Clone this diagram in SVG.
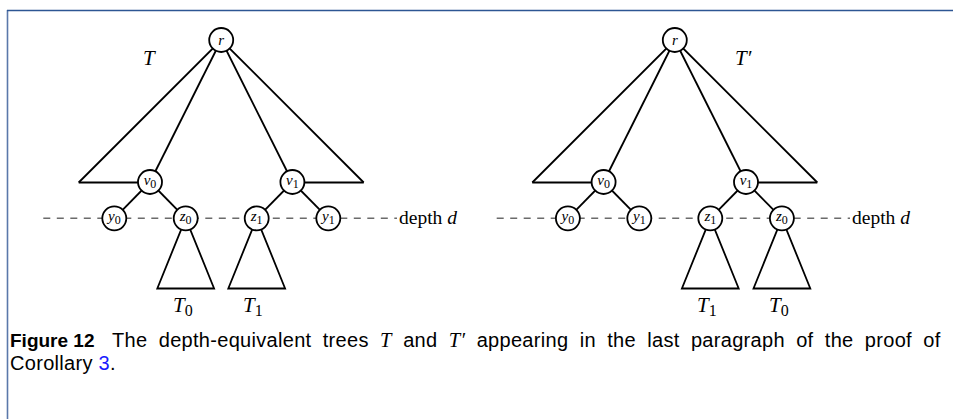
<svg xmlns="http://www.w3.org/2000/svg" width="953" height="419" viewBox="0 0 953 419">
<style>
.e{stroke:#000;stroke-width:1.8;fill:none;stroke-linejoin:miter}
.d{stroke:#6b6b6b;stroke-width:1.5;stroke-dasharray:7 6.5;fill:none}
.n{fill:#fff;stroke:#000;stroke-width:1.8}
.l{font-family:"Liberation Serif",serif;font-style:italic;font-size:15px;text-anchor:middle}
.s{font-style:normal;font-size:12px}
.m{font-family:"Liberation Serif",serif;font-style:italic;font-size:21px}
.ms{font-style:normal;font-size:16px}
.dl{font-family:"Liberation Serif",serif;font-size:19.5px}
.cap{font-family:"Liberation Sans",sans-serif;font-size:20px;letter-spacing:0.3px}
.ci{font-family:"Liberation Serif",serif;font-style:italic;font-size:20.5px}
</style>
<rect width="953" height="419" fill="#fff"/>
<g id="frame">
<line x1="7.5" y1="10" x2="7.5" y2="419" stroke="#5a78aa" stroke-width="1.6"/>
<line x1="7" y1="10.5" x2="953" y2="10.5" stroke="#2d5693" stroke-width="1.4"/>
</g>
<g id="connectors">
<line class="d" x1="43.3" y1="218.3" x2="397" y2="218.3"/>
<line class="d" x1="496.7" y1="218.3" x2="850" y2="218.3"/>
<path class="e" d="M78.7 182.5 L221.2 40 L363.7 182.5"/>
<line class="e" x1="78.7" y1="182.5" x2="150" y2="182.5"/>
<line class="e" x1="292.4" y1="182.5" x2="363.7" y2="182.5"/>
<line class="e" x1="221.2" y1="40" x2="150" y2="182"/>
<line class="e" x1="221.2" y1="40" x2="292.4" y2="182"/>
<line class="e" x1="150" y1="182" x2="114.3" y2="218.3"/>
<line class="e" x1="150" y1="182" x2="185.7" y2="218.3"/>
<line class="e" x1="292.4" y1="182" x2="256.7" y2="218.3"/>
<line class="e" x1="292.4" y1="182" x2="328.3" y2="218.3"/>
<path class="e" d="M185.7 218.3 L157.3 288.5 L214.1 288.5 Z"/>
<path class="e" d="M256.7 218.3 L228.3 288.5 L285.1 288.5 Z"/>
<path class="e" d="M532.3 182.5 L674.8 40 L817.3 182.5"/>
<line class="e" x1="532.3" y1="182.5" x2="603.6" y2="182.5"/>
<line class="e" x1="746" y1="182.5" x2="817.3" y2="182.5"/>
<line class="e" x1="674.8" y1="40" x2="603.6" y2="182"/>
<line class="e" x1="674.8" y1="40" x2="746" y2="182"/>
<line class="e" x1="603.6" y1="182" x2="567.9" y2="218.3"/>
<line class="e" x1="603.6" y1="182" x2="639.3" y2="218.3"/>
<line class="e" x1="746" y1="182" x2="710.3" y2="218.3"/>
<line class="e" x1="746" y1="182" x2="781.9" y2="218.3"/>
<path class="e" d="M710.3 218.3 L681.9 288.5 L738.7 288.5 Z"/>
<path class="e" d="M781.9 218.3 L753.5 288.5 L810.3 288.5 Z"/>
</g>
<g id="left-tree-labels">
<text class="m" x="143" y="65">T</text>
<text class="m" x="173" y="312">T<tspan class="ms" dy="4">0</tspan></text>
<text class="m" x="243" y="312">T<tspan class="ms" dy="4">1</tspan></text>
<text class="dl" x="399" y="223.5">depth <tspan font-style="italic">d</tspan></text>
</g>
<g id="right-tree-labels">
<text class="m" x="735" y="65">T′</text>
<text class="m" x="697" y="312">T<tspan class="ms" dy="4">1</tspan></text>
<text class="m" x="769" y="312">T<tspan class="ms" dy="4">0</tspan></text>
<text class="dl" x="852" y="223.5">depth <tspan font-style="italic">d</tspan></text>
</g>
<g id="L-r"><circle class="n" cx="221.2" cy="40" r="12"/><text class="l" x="221.2" y="44.5">r</text></g>
<g id="L-v0"><circle class="n" cx="150" cy="182" r="12"/><text class="l" x="150" y="185">v<tspan class="s" dy="3">0</tspan></text></g>
<g id="L-v1"><circle class="n" cx="292.4" cy="182" r="12"/><text class="l" x="292.4" y="185">v<tspan class="s" dy="3">1</tspan></text></g>
<g id="L-y0"><circle class="n" cx="114.3" cy="218.3" r="12"/><text class="l" x="114.3" y="221.3">y<tspan class="s" dy="3">0</tspan></text></g>
<g id="L-z0"><circle class="n" cx="185.7" cy="218.3" r="12"/><text class="l" x="185.7" y="221.3">z<tspan class="s" dy="3">0</tspan></text></g>
<g id="L-z1"><circle class="n" cx="256.7" cy="218.3" r="12"/><text class="l" x="256.7" y="221.3">z<tspan class="s" dy="3">1</tspan></text></g>
<g id="L-y1"><circle class="n" cx="328.3" cy="218.3" r="12"/><text class="l" x="328.3" y="221.3">y<tspan class="s" dy="3">1</tspan></text></g>
<g id="R-r"><circle class="n" cx="674.8" cy="40" r="12"/><text class="l" x="674.8" y="44.5">r</text></g>
<g id="R-v0"><circle class="n" cx="603.6" cy="182" r="12"/><text class="l" x="603.6" y="185">v<tspan class="s" dy="3">0</tspan></text></g>
<g id="R-v1"><circle class="n" cx="746" cy="182" r="12"/><text class="l" x="746" y="185">v<tspan class="s" dy="3">1</tspan></text></g>
<g id="R-y0"><circle class="n" cx="567.9" cy="218.3" r="12"/><text class="l" x="567.9" y="221.3">y<tspan class="s" dy="3">0</tspan></text></g>
<g id="R-y1"><circle class="n" cx="639.3" cy="218.3" r="12"/><text class="l" x="639.3" y="221.3">y<tspan class="s" dy="3">1</tspan></text></g>
<g id="R-z1"><circle class="n" cx="710.3" cy="218.3" r="12"/><text class="l" x="710.3" y="221.3">z<tspan class="s" dy="3">1</tspan></text></g>
<g id="R-z0"><circle class="n" cx="781.9" cy="218.3" r="12"/><text class="l" x="781.9" y="221.3">z<tspan class="s" dy="3">0</tspan></text></g>
<g id="caption">
<text class="cap" x="10" y="347" word-spacing="5.5"><tspan font-weight="bold" word-spacing="0" letter-spacing="0" font-size="19">Figure 12</tspan><tspan x="112">The depth-equivalent trees </tspan><tspan class="ci">T</tspan> and <tspan class="ci">T′</tspan> appearing in the last paragraph of the proof of</text>
<text class="cap" x="10" y="370">Corollary <tspan fill="#1a1aff">3</tspan>.</text>
</g>
</svg>
